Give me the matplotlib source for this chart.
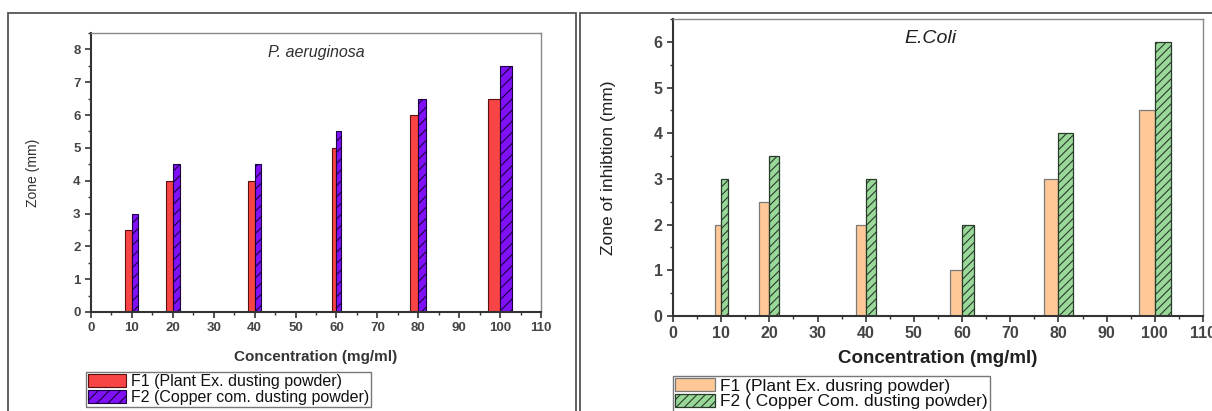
import matplotlib
matplotlib.use("Agg")
import matplotlib.pyplot as plt
from matplotlib.patches import Rectangle
from matplotlib.ticker import MultipleLocator

plt.rcParams['font.family'] = ['Liberation Sans', 'DejaVu Sans']
plt.rcParams['hatch.linewidth'] = 0.8

# data
conc = [10, 20, 40, 60, 80, 100]
pa_f1 = [2.5, 4, 4, 5, 6, 6.5]
pa_f2 = [3, 4.5, 4.5, 5.5, 6.5, 7.5]
ec_f1 = [2, 2.5, 2, 1, 3, 4.5]
ec_f2 = [3, 3.5, 3, 2, 4, 6]
xticks = [0, 10, 20, 30, 40, 50, 60, 70, 80, 90, 100, 110]

# bar widths as drawn in the original (Origin varied them per group)
w_left = [1.6, 1.75, 1.55, 1.1, 1.9, 3.0]
w_right = [1.35, 2.05, 2.05, 2.5, 3.05, 3.3]

W, H = 1212, 411
fig = plt.figure(figsize=(W / 100, H / 100), dpi=100)


def box(x0, y0, x1, y1):
    return [x0 / W, 1 - y1 / H, (x1 - x0) / W, (y1 - y0) / H]


# panel frames
for (x0, y0, x1, y1) in [(8, 13, 576, 420), (580, 13, 1230, 420)]:
    fig.patches.append(Rectangle((x0 / W, 1 - y1 / H), (x1 - x0) / W, (y1 - y0) / H,
                                 transform=fig.transFigure, fill=False,
                                 edgecolor='#555555', linewidth=1.3, zorder=0))

tick_col = '#454545'


def style_axes(ax, ymax, fs):
    ax.set_xlim(0, 110)
    ax.set_ylim(0, ymax)
    ax.set_xticks(xticks)
    ax.xaxis.set_minor_locator(MultipleLocator(5))
    ax.yaxis.set_major_locator(MultipleLocator(1))
    ax.yaxis.set_minor_locator(MultipleLocator(0.5))
    ax.tick_params(which='both', direction='out', top=False, right=False,
                   colors='#333333', labelcolor=tick_col, labelsize=fs)
    ax.tick_params(which='major', length=4, width=1.2)
    ax.tick_params(which='minor', length=2.5, width=1.0)
    for lab in ax.get_xticklabels() + ax.get_yticklabels():
        lab.set_fontweight('bold')
    for side in ['left', 'bottom']:
        ax.spines[side].set_linewidth(1.5)
        ax.spines[side].set_color('#333333')
    for side in ['top', 'right']:
        ax.spines[side].set_linewidth(1.0)
        ax.spines[side].set_color('#888888')


# left panel: P. aeruginosa
ax1 = fig.add_axes(box(91, 33, 541, 312))
b1 = ax1.bar(conc, pa_f1, width=[-w for w in w_left], align='edge',
             color='#F84444', edgecolor='#5a1010', linewidth=0.8,
             label='F1 (Plant Ex. dusting powder)')
b2 = ax1.bar(conc, pa_f2, width=w_left, align='edge',
             color='#8010F8', edgecolor='#1a0040', linewidth=0.8, hatch='///',
             label='F2 (Copper com. dusting powder)')
style_axes(ax1, 8.5, 9.5)
ax1.text(0.5, 0.93, 'P. aeruginosa', transform=ax1.transAxes, ha='center', va='center',
         fontsize=11.5, style='italic', color='#303030')
ax1.set_ylabel('Zone (mm)', fontsize=10, color='#303030', labelpad=24)
ax1.set_xlabel('Concentration (mg/ml)', fontsize=11, fontweight='bold',
               color='#353535', labelpad=11)
fig.legend(handles=[b1, b2], loc='upper left', bbox_to_anchor=(86 / W, 1 - 372 / H),
           borderaxespad=0, fontsize=11.5, frameon=True, fancybox=False,
           edgecolor='#555555', handlelength=2.4, handleheight=0.85,
           labelspacing=0.05, borderpad=0.12, handletextpad=0.3,
           labelcolor='#111111')

# right panel: E.Coli
ax2 = fig.add_axes(box(673, 19, 1203, 316))
c1 = ax2.bar(conc, ec_f1, width=[-w for w in w_right], align='edge',
             color='#FFC896', edgecolor='#7a7a7a', linewidth=0.9,
             label='F1 (Plant Ex. dusring powder)')
c2 = ax2.bar(conc, ec_f2, width=w_right, align='edge',
             color='#9AD89A', edgecolor='#2a3a2a', linewidth=0.9, hatch='////',
             label='F2 ( Copper Com. dusting powder)')
style_axes(ax2, 6.5, 11.5)
ax2.text(0.485, 0.936, 'E.Coli', transform=ax2.transAxes, ha='center', va='center',
         fontsize=14, style='italic', color='#202020')
ax2.set_ylabel('Zone of inhibtion (mm)', fontsize=12.5, color='#202020', labelpad=27)
ax2.set_xlabel('Concentration (mg/ml)', fontsize=13.5, fontweight='bold',
               color='#202020', labelpad=6)
fig.legend(handles=[c1, c2], loc='upper left', bbox_to_anchor=(673 / W, 1 - 376 / H),
           borderaxespad=0, fontsize=12.5, frameon=True, fancybox=False,
           edgecolor='#555555', handlelength=2.3, handleheight=0.8,
           labelspacing=0.0, borderpad=0.12, handletextpad=0.3,
           labelcolor='#111111')

fig.savefig('out.png', dpi=100)
